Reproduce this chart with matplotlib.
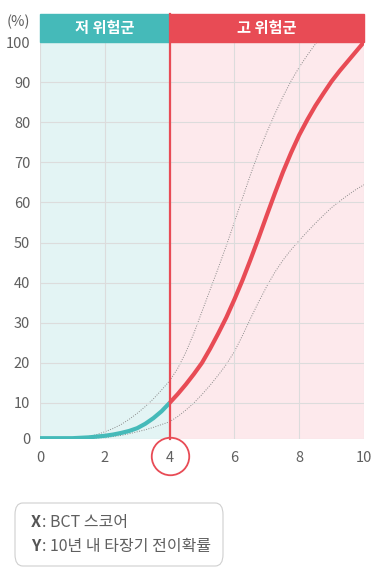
import matplotlib
matplotlib.use('Agg')
import matplotlib.pyplot as plt
from matplotlib.patches import Rectangle, FancyBboxPatch

plt.rcParams['font.family'] = ['Noto Sans CJK KR', 'DejaVu Sans']

# main curve, low risk part (teal) and high risk part (red)
x_low = [0, 0.5, 1, 1.5, 2, 2.25, 2.5, 2.75, 3, 3.25, 3.5, 3.75, 4]
y_low = [1.2, 1.2, 1.2, 1.4, 1.8, 2.1, 2.5, 3.0, 3.7, 4.8, 6.2, 7.9, 10]
x_high = [4, 4.25, 4.5, 4.75, 5, 5.25, 5.5, 5.75, 6, 6.25, 6.5, 6.75, 7,
          7.25, 7.5, 7.75, 8, 8.25, 8.5, 8.75, 9, 9.25, 9.5, 9.75, 10]
y_high = [10, 12.2, 14.6, 17.2, 20, 23.5, 27.3, 31.3, 35.8, 40.6, 45.8, 51.2, 56.8,
          62.3, 67.6, 72.4, 76.8, 80.6, 84.1, 87.2, 90.2, 92.8, 95.2, 97.6, 100]

# dotted band
x_upper = [1, 1.25, 1.5, 1.75, 2, 2.25, 2.5, 2.75, 3, 3.25, 3.5, 3.75, 4,
           4.25, 4.5, 4.75, 5, 5.25, 5.5, 5.75, 6, 6.25, 6.5, 6.75, 7,
           7.25, 7.5, 7.75, 8, 8.25, 8.5, 8.75]
y_upper = [1.2, 1.3, 1.6, 2.1, 2.8, 3.6, 4.6, 5.9, 7.4, 9.1, 11, 13.2, 15.5,
           18.6, 22.6, 27.4, 32.8, 38.2, 43.6, 49.2, 55.1, 61.1, 67.0, 72.5, 77.5,
           82.1, 86.4, 90.3, 93.7, 96.7, 99.5, 102]
x_lower = [1.5, 1.75, 2, 2.25, 2.5, 2.75, 3, 3.25, 3.5, 3.75, 4,
           4.25, 4.5, 4.75, 5, 5.25, 5.5, 5.75, 6, 6.25, 6.5, 6.75, 7,
           7.25, 7.5, 7.75, 8, 8.25, 8.5, 8.75, 9, 9.25, 9.5, 9.75, 10]
y_lower = [1.2, 1.25, 1.35, 1.6, 1.9, 2.3, 2.8, 3.3, 3.9, 4.6, 5.3,
           6.6, 8.2, 10, 12.1, 14.4, 16.9, 19.6, 22.8, 26.8, 31.1, 35.2, 39.1,
           42.6, 45.6, 48.2, 50.5, 52.7, 54.8, 56.8, 58.7, 60.3, 61.8, 63.2, 64.4]

x_ticks = [0, 2, 4, 6, 8, 10]
y_ticks = [1, 10, 20, 30, 40, 50, 60, 70, 80, 90, 100]
y_tick_labels = ['0', '10', '20', '30', '40', '50', '60', '70', '80', '90', '100']
cutoff = 4
groups = ['저 위험군', '고 위험군']

teal = '#45BAB9'
red = '#E84B55'
teal_bg = '#E3F4F4'
red_bg = '#FDE9EC'
grey_txt = '#5F5F5F'

W, H = 386, 583
fig = plt.figure(figsize=(W / 100, H / 100), dpi=100)
ax_l, ax_r, ax_t, ax_b = 40, 364, 42, 439
ax = fig.add_axes([ax_l / W, 1 - ax_b / H, (ax_r - ax_l) / W, (ax_b - ax_t) / H])
ax.set_xlim(0, 10)
ax.set_ylim(1, 100)
ax.set_facecolor('none')
for s in ax.spines.values():
    s.set_visible(False)

ax.axvspan(0, cutoff, color=teal_bg, zorder=0)
ax.axvspan(cutoff, 10, color=red_bg, zorder=0)

ax.set_xticks(x_ticks)
ax.set_yticks(y_ticks)
ax.set_yticklabels(y_tick_labels)
ax.tick_params(length=0, labelsize=10.5, labelcolor=grey_txt)
ax.tick_params(axis='x', pad=9)
ax.tick_params(axis='y', pad=7)
ax.grid(True, color='#DCDCDC', linewidth=0.8, zorder=1)
ax.set_axisbelow(False)

ax.plot(x_upper, y_upper, color='#8A8A8A', linestyle=(0, (1, 1.5)), linewidth=0.7, zorder=2)
ax.plot(x_lower, y_lower, color='#8A8A8A', linestyle=(0, (1, 1.5)), linewidth=0.7, zorder=2)
ax.plot(x_low, y_low, color=teal, linewidth=3, solid_capstyle='butt', zorder=3)
ax.plot(x_high, y_high, color=red, linewidth=3, solid_capstyle='butt', zorder=3)

# header band above the plot
hb = 28 / (ax_b - ax_t)
trans = ax.get_xaxis_transform()
ax.add_patch(Rectangle((0, 1), cutoff, hb, transform=trans, color=teal, clip_on=False, zorder=4))
ax.add_patch(Rectangle((cutoff, 1), 10 - cutoff, hb, transform=trans, color=red, clip_on=False, zorder=4))
ax.text(cutoff / 2, 1 + hb / 2, groups[0], transform=trans, ha='center', va='center',
        color='white', fontsize=11, fontweight='bold', zorder=5)
ax.text((cutoff + 10) / 2, 1 + hb / 2, groups[1], transform=trans, ha='center', va='center',
        color='white', fontsize=11, fontweight='bold', zorder=5)

# cut-off line and circle round the 4 tick
ax.plot([cutoff, cutoff], [0, 1 + hb], transform=trans, color=red, linewidth=1.6,
        clip_on=False, zorder=6)
ax.plot([cutoff], [-(456 - ax_b) / (ax_b - ax_t)], transform=trans, marker='o',
        markersize=27, markerfacecolor='none', markeredgecolor=red, markeredgewidth=1.3,
        clip_on=False, zorder=6)

fig.text(18 / W, 1 - 22 / H, '(%)', ha='center', va='center', fontsize=10.5, color=grey_txt)

# axis legend box
box = FancyBboxPatch((15 / W, 1 - 566 / H), 208 / W, 63 / H,
                     boxstyle='round,pad=0,rounding_size=0.02', transform=fig.transFigure,
                     facecolor='white', edgecolor='#CFCFCF', linewidth=0.8)
fig.add_artist(box)
fig.text(31 / W, 1 - 522 / H, 'X', ha='left', va='center', fontsize=11.5,
         fontweight='bold', color='#555555')
fig.text(42 / W, 1 - 522 / H, ': BCT 스코어', ha='left', va='center', fontsize=11.5, color=grey_txt)
fig.text(31 / W, 1 - 546 / H, 'Y', ha='left', va='center', fontsize=11.5,
         fontweight='bold', color='#555555')
fig.text(42 / W, 1 - 546 / H, ': 10년 내 타장기 전이확률', ha='left', va='center',
         fontsize=11.5, color=grey_txt)

fig.savefig('out.png', dpi=100, facecolor='white')
